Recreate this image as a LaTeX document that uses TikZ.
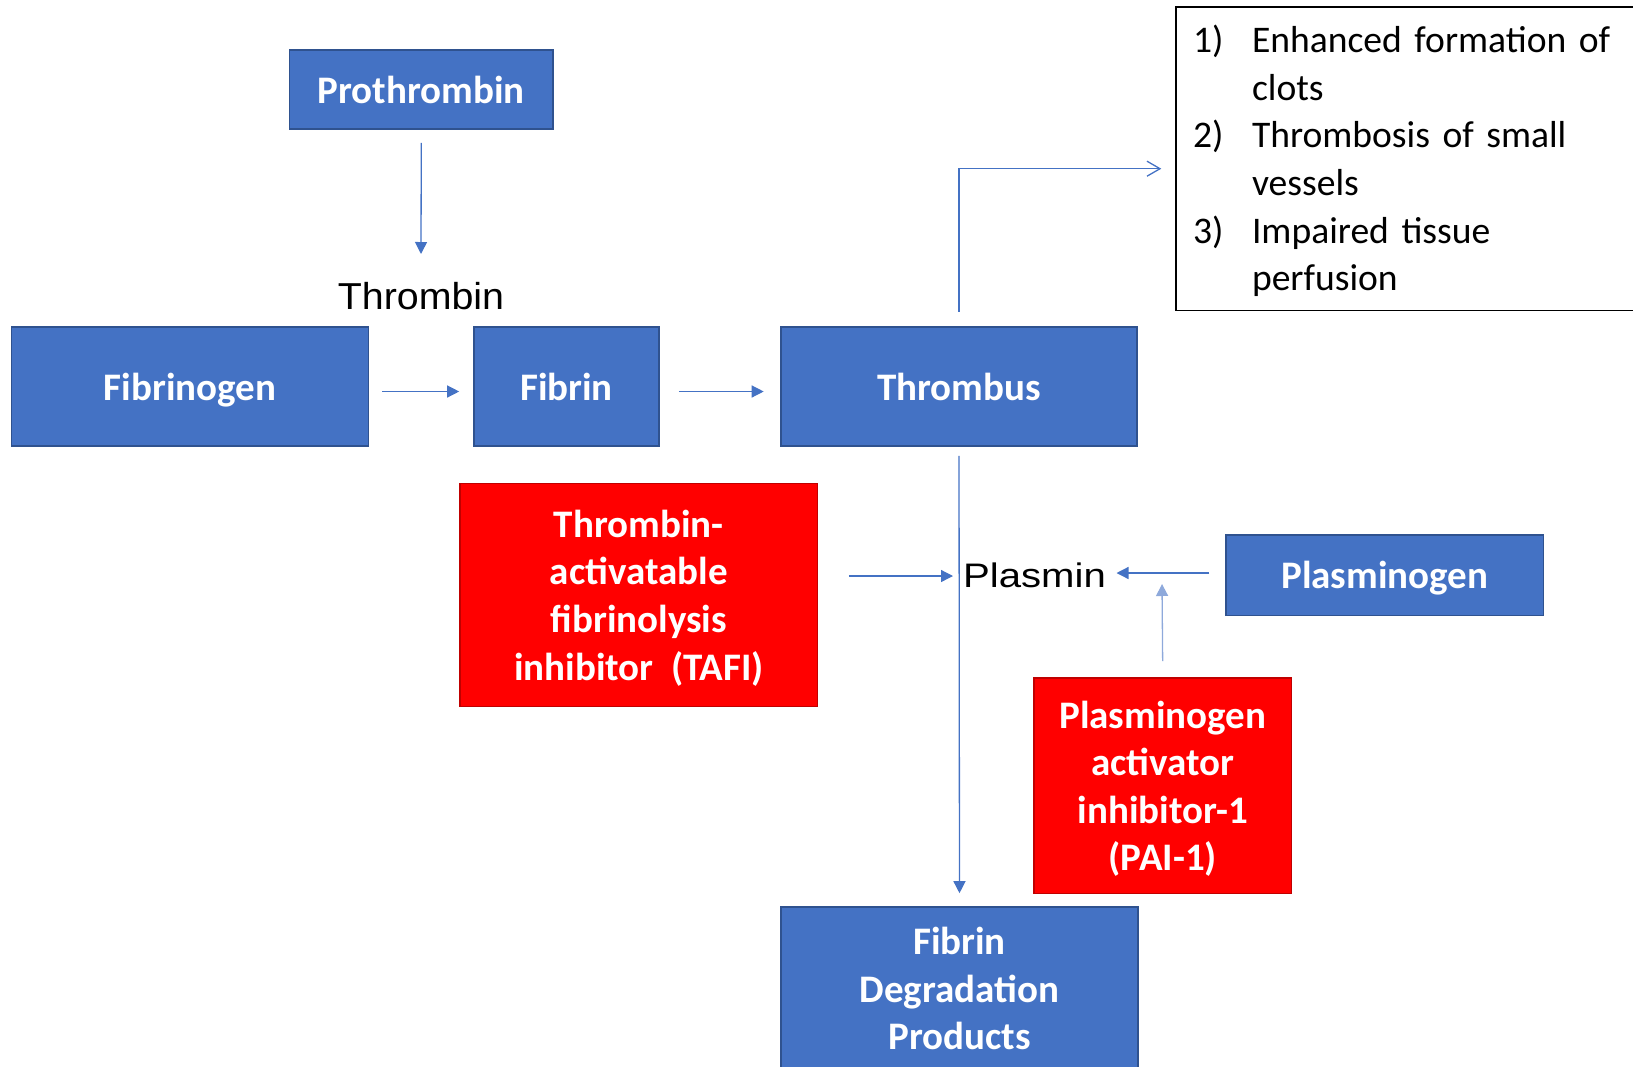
\documentclass[tikz,border=0pt]{standalone}
\usepackage{fontspec}
\setmainfont{Carlito}
\newfontfamily\arialfont{Liberation Sans}
\usetikzlibrary{arrows.meta}
\definecolor{boxblue}{HTML}{4472C4}
\definecolor{boxblueedge}{HTML}{2F528F}
\definecolor{boxred}{HTML}{FF0000}
\definecolor{boxrededge}{HTML}{C00000}
\definecolor{arrowblue}{HTML}{4472C4}
\definecolor{arrowlight}{HTML}{8EA9DB}

\begin{document}
\begin{tikzpicture}[x=1pt,y=-1pt,
  box/.style={draw, line width=1.6pt, inner sep=0pt, align=center, text=white,
    font=\bfseries\fontsize{39}{47.6}\selectfont},
  bluebox/.style={box, fill=boxblue, draw=boxblueedge},
  redbox/.style={box, fill=boxred, draw=boxrededge},
  nodepth/.style={text depth=0pt},
  word/.style={inner sep=0pt, text=black, anchor=base},
  flow/.style={draw=arrowblue, line width=1.3pt, -{Triangle[length=12pt,width=12pt]}},
  openflow/.style={draw=arrowblue, line width=1.3pt, -{Straight Barb[length=13pt,width=15pt,line width=1.3pt]}},
  listbox/.style={draw=black, line width=1.4pt, fill=white, inner xsep=17pt, inner ysep=0pt,
    align=left, font=\fontsize{37.6}{47.6}\selectfont}
]
\useasboundingbox (0,0) rectangle (1633,1066);

% clotting side
\node[bluebox, minimum width=263.5pt, minimum height=79pt] (prothrombin) at (421.3,89.5) {Prothrombin};
\node[word, xscale=1.05, font=\arialfont\fontsize{37.5}{45}\selectfont] (thrombin) at (421,309) {Thrombin};
\node[bluebox, nodepth, minimum width=357pt, minimum height=119pt] (fibrinogen) at (190,386.5) {Fibrinogen};
\node[bluebox, minimum width=185pt, minimum height=119pt] (fibrin) at (566.5,386.5) {Fibrin};
\node[bluebox, minimum width=356pt, minimum height=119pt] (thrombus) at (959,386.5) {Thrombus};

% consequences
\node[listbox, minimum width=474pt, minimum height=303.7pt, text width=440pt] (effects) at (1413,158.9)
  {\vbox{\vskip6.4pt\hbox{\begin{tabular}{@{}p{59pt}@{}l@{}}
   1) & Enhanced formation of\\
      & clots\\
   2) & Thrombosis of small\\
      & vessels\\
   3) & Impaired tissue\\
      & perfusion
   \end{tabular}}}};

% fibrinolysis side
\node[redbox, nodepth, minimum width=357.6pt, minimum height=223pt] (tafi) at (638.8,595)
  {Thrombin-\\activatable\\fibrinolysis\\inhibitor~~(TAFI)};
\node[word, xscale=1.18, font=\arialfont\fontsize{34}{40}\selectfont] (plasmin) at (1034.5,587.5) {Plasmin};
\node[bluebox, nodepth, minimum width=317.5pt, minimum height=80.5pt] (plasminogen) at (1384.8,575.3) {Plasminogen};
\node[redbox, nodepth, minimum width=257.5pt, minimum height=215.6pt] (pai) at (1162.8,785.8)
  {Plasminogen\\activator\\inhibitor-1\\(PAI-1)};
\node[bluebox, minimum width=357pt, minimum height=163pt] (fdp) at (959.5,988.5)
  {Fibrin\\Degradation\\Products};

% arrow ends next to the free-standing words
\coordinate (thrombinIn) at (421,254);
\coordinate (plasminL) at (953,576);
\coordinate (plasminR) at (1116.5,573);
\coordinate (plasminB) at (1162,584);

% connectors
\draw[flow, shorten <=13pt] (prothrombin.south) -- (thrombinIn);
\draw[flow, shorten <=13pt, shorten >=14pt] ([yshift=-5pt]fibrinogen.east) -- ([yshift=-5pt]fibrin.west);
\draw[flow, shorten <=19pt, shorten >=16.5pt] ([yshift=-5pt]fibrin.east) -- ([yshift=-5pt]thrombus.west);
\draw[openflow, shorten <=14.5pt, shorten >=14pt] (thrombus.north) |- ([yshift=-9.8pt]effects.west);
\draw[flow, shorten <=9pt, shorten >=13pt] (thrombus.south) -- (fdp.north);
\draw[flow, shorten <=30.4pt] ([yshift=19pt]tafi.east) -- (plasminL);
\draw[flow, shorten <=16pt] ([yshift=2.3pt]plasminogen.west) -- (plasminR);
\draw[flow, draw=arrowlight, shorten <=16pt] (pai.north) -- (plasminB);
\end{tikzpicture}
\end{document}
